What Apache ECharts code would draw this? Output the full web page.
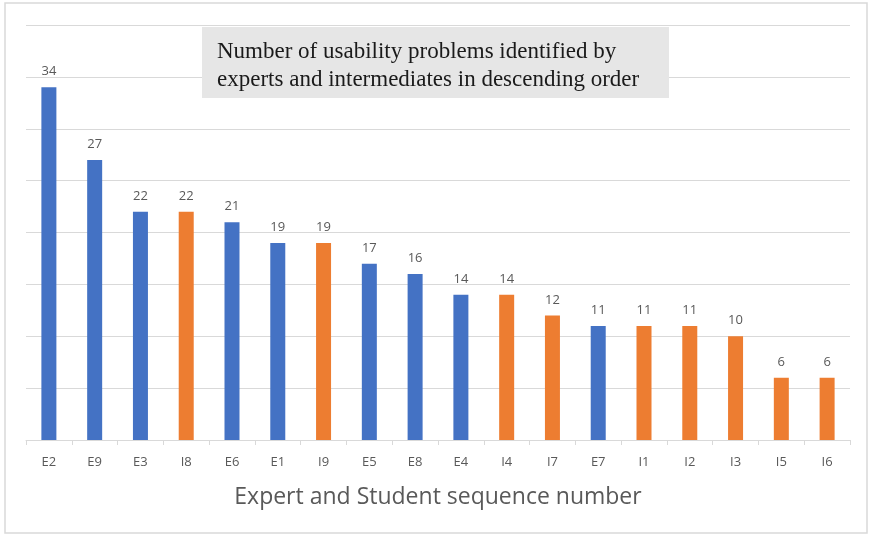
<!DOCTYPE html>
<html>
<head>
<meta charset="utf-8">
<script src="https://cdn.jsdelivr.net/npm/echarts@6/dist/echarts.min.js"></script>
<style>
  html, body { margin: 0; padding: 0; background: #fff; }
  #chart { width: 869px; height: 535px; }
</style>
</head>
<body>
<div id="chart"></div>
<script>
// Participants sorted by number of problems found (E = expert, I = intermediate)
const categories = ['E2', 'E9', 'E3', 'I8', 'E6', 'E1', 'I9', 'E5', 'E8', 'E4', 'I4', 'I7', 'E7', 'I1', 'I2', 'I3', 'I5', 'I6'];
const problemCounts = [34, 27, 22, 22, 21, 19, 19, 17, 16, 14, 14, 12, 11, 11, 11, 10, 6, 6];
const titleLines = ['Number of usability problems identified by', 'experts and intermediates in descending order'];
const axisTitle = 'Expert and Student sequence number';

const EXPERT_COLOR = '#4472C4';
const INTERMEDIATE_COLOR = '#ED7D31';

const chart = echarts.init(document.getElementById('chart'), null, { renderer: 'canvas' });

const barData = problemCounts.map((v, i) => ({
  value: v,
  itemStyle: { color: categories[i].startsWith('E') ? EXPERT_COLOR : INTERMEDIATE_COLOR }
}));

chart.setOption({
  animation: false,
  backgroundColor: '#ffffff',
  grid: { left: 26, right: 19, top: 25, bottom: 95, containLabel: false },
  xAxis: {
    type: 'category',
    data: categories,
    name: axisTitle,
    nameLocation: 'middle',
    nameGap: 46,
    nameTextStyle: { fontFamily: 'Open Sans', fontSize: 23, color: '#595959' },
    axisLine: { lineStyle: { color: '#d9d9d9', width: 1 } },
    axisTick: { show: true, alignWithLabel: false, length: 5, lineStyle: { color: '#d9d9d9' } },
    axisLabel: { fontFamily: 'Open Sans', fontSize: 13, color: '#595959', margin: 16 }
  },
  yAxis: {
    type: 'value',
    min: 0,
    max: 40,
    interval: 5,
    axisLabel: { show: false },
    axisLine: { show: false },
    axisTick: { show: false },
    splitLine: { lineStyle: { color: '#d9d9d9', width: 1.2 } }
  },
  series: [{
    type: 'bar',
    data: barData,
    barWidth: 15,
    label: {
      show: true,
      position: 'top',
      distance: 9,
      fontFamily: 'Open Sans',
      fontSize: 13,
      color: '#595959'
    }
  }],
  graphic: [
    {
      type: 'rect',
      z: -1,
      shape: { x: 5, y: 3, width: 862, height: 530 },
      style: { fill: 'none', stroke: '#d9d9d9', lineWidth: 1.5 }
    },
    {
      type: 'rect',
      z: 10,
      shape: { x: 202, y: 27, width: 467, height: 71 },
      style: { fill: '#e6e6e6' }
    },
    {
      type: 'text',
      z: 11,
      x: 217,
      y: 38,
      style: {
        text: titleLines.join('\n'),
        font: '23px "Liberation Serif"',
        lineHeight: 28,
        fill: '#1a1a1a'
      }
    }
  ]
});
</script>
</body>
</html>
